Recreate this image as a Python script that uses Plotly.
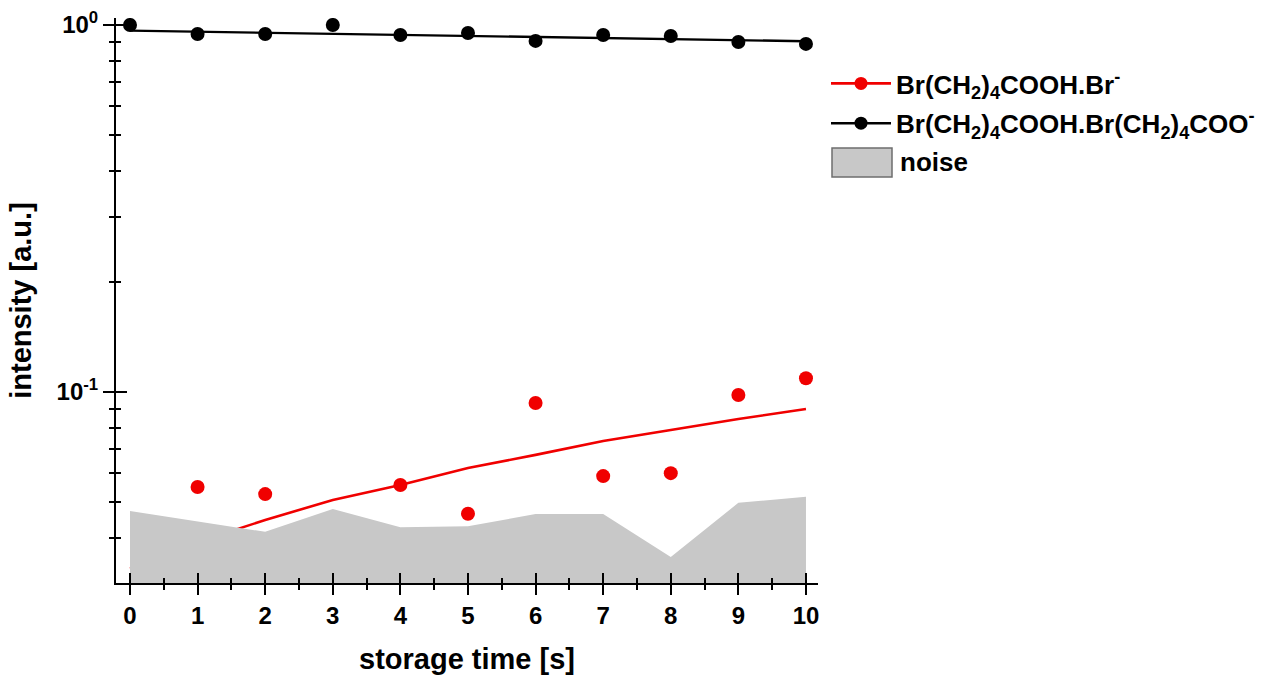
import plotly.graph_objects as go

# storage time axis (s)
time_s = [0, 1, 2, 3, 4, 5, 6, 7, 8, 9, 10]

# measured intensities (a.u.)
br_adduct = [None, 0.0551, 0.0527, None, 0.0558, 0.0466, 0.0933, 0.0590, 0.0601, 0.0981, 0.109]
dimer = [1.0, 0.945, 0.945, 1.0, 0.939, 0.951, 0.905, 0.939, 0.933, 0.899, 0.888]

# fitted curves evaluated at the storage times
br_adduct_fit = [0.033, 0.039, 0.0448, 0.0508, 0.0558, 0.0621, 0.0674, 0.0735, 0.0788, 0.0844, 0.0899]
dimer_fit = [0.965, 0.959, 0.952, 0.946, 0.940, 0.934, 0.927, 0.921, 0.915, 0.909, 0.903]

# noise level
noise = [0.0474, 0.0445, 0.0416, 0.0480, 0.0428, 0.0431, 0.0465, 0.0465, 0.0355, 0.0499, 0.0518]

# tick definitions
x_tickvals = [0, 1, 2, 3, 4, 5, 6, 7, 8, 9, 10]
x_minor_tickvals = [0.5, 1.5, 2.5, 3.5, 4.5, 5.5, 6.5, 7.5, 8.5, 9.5]
y_tickvals = [0.1, 1]
y_ticktext = ["10<sup>-1</sup>", "10<sup>0</sup>"]
y_minor_tickvals = [0.04, 0.05, 0.06, 0.07, 0.08, 0.09, 0.2, 0.3, 0.4, 0.5, 0.6, 0.7, 0.8, 0.9]

name_br = "Br(CH<sub>2</sub>)<sub>4</sub>COOH.Br<sup>-</sup>"
name_dimer = "Br(CH<sub>2</sub>)<sub>4</sub>COOH.Br(CH<sub>2</sub>)<sub>4</sub>COO<sup>-</sup>"

RED = "#f00000"
BLACK = "#000000"
GRAY = "#c8c8c8"
FONT = "Liberation Sans, Arial, sans-serif"

X_RANGE = [-0.207, 10.178]
Y_RANGE = [-1.5204, 0.019]

# plot-area geometry in pixels, used to place the hand-built noise legend key
W, H = 1267, 675
ML, MR, MT, MB = 116, 449, 18, 92
PW, PH = W - ML - MR, H - MT - MB


def px_x(px):
    return (px - ML) / PW


def px_y(py):
    return (H - MB - py) / PH


fig = go.Figure()

# red series: fit and points (drawn first so the noise band covers them)
fig.add_trace(go.Scatter(x=time_s, y=br_adduct_fit, mode="lines",
                         line=dict(color=RED, width=2.6),
                         legendgroup="br", showlegend=False, hoverinfo="skip"))
fig.add_trace(go.Scatter(x=time_s, y=br_adduct, mode="markers",
                         marker=dict(color=RED, size=14),
                         legendgroup="br", showlegend=False))

# noise band
fig.add_trace(go.Scatter(x=time_s, y=noise, mode="lines", fill="tozeroy",
                         fillcolor=GRAY, line=dict(width=0, color=GRAY),
                         showlegend=False, hoverinfo="skip"))

# black series lives on the overlay axes (which also draw the inner tick halves)
fig.add_trace(go.Scatter(x=time_s, y=dimer_fit, mode="lines",
                         line=dict(color=BLACK, width=2.4),
                         xaxis="x2", yaxis="y2",
                         legendgroup="dimer", showlegend=False, hoverinfo="skip"))
fig.add_trace(go.Scatter(x=time_s, y=dimer, mode="markers",
                         marker=dict(color=BLACK, size=14),
                         xaxis="x2", yaxis="y2",
                         legendgroup="dimer", showlegend=False))

# legend entries
fig.add_trace(go.Scatter(x=[None], y=[None], mode="lines+markers", name=name_br,
                         line=dict(color=RED, width=2.6), marker=dict(color=RED, size=13),
                         legendgroup="br", legendrank=1))
fig.add_trace(go.Scatter(x=[None], y=[None], mode="lines+markers", name=name_dimer,
                         line=dict(color=BLACK, width=2.4), marker=dict(color=BLACK, size=13),
                         legendgroup="dimer", legendrank=2))

tick_font = dict(family=FONT, size=24, color=BLACK, weight="bold")
title_font = dict(family=FONT, size=29, color=BLACK, weight="bold")
legend_font = dict(family=FONT, size=26, color=BLACK, weight="bold")

# noise key: grey box with a darker outline, and its label
fig.add_shape(type="rect", xref="paper", yref="paper",
              x0=px_x(832), x1=px_x(892), y0=px_y(177), y1=px_y(148),
              fillcolor=GRAY, line=dict(color="#6e6e6e", width=1.5))
fig.add_annotation(text="noise", xref="paper", yref="paper",
                   x=px_x(898), y=px_y(162), xanchor="left", yanchor="middle",
                   showarrow=False, font=legend_font)

fig.update_layout(
    width=W, height=H,
    margin=dict(l=ML, r=MR, t=MT, b=MB, autoexpand=False),
    plot_bgcolor="white", paper_bgcolor="white",
    font=dict(family=FONT, color=BLACK, weight="bold"),
    xaxis=dict(
        range=X_RANGE, showgrid=False, zeroline=False, automargin=False,
        showline=True, linecolor=BLACK, linewidth=2,
        tickmode="array", tickvals=x_tickvals,
        ticks="outside", ticklen=10, tickwidth=2, tickcolor=BLACK,
        minor=dict(tickmode="array", tickvals=x_minor_tickvals, ticks="outside",
                   ticklen=5, tickwidth=2, tickcolor=BLACK, showgrid=False),
        tickfont=tick_font,
        title=dict(text="storage time [s]", font=title_font, standoff=24),
    ),
    yaxis=dict(
        type="log", range=Y_RANGE, showgrid=False, zeroline=False, automargin=False,
        showline=True, linecolor=BLACK, linewidth=2,
        tickmode="array", tickvals=y_tickvals, ticktext=y_ticktext,
        ticks="outside", ticklen=11, tickwidth=2, tickcolor=BLACK,
        minor=dict(tickmode="array", tickvals=y_minor_tickvals, ticks="outside",
                   ticklen=5, tickwidth=2, tickcolor=BLACK, showgrid=False),
        tickfont=tick_font,
        title=dict(text="intensity [a.u.]", font=title_font, standoff=16),
    ),
    xaxis2=dict(
        overlaying="x", anchor="y2", side="bottom", range=X_RANGE, automargin=False,
        showgrid=False, zeroline=False, showline=False, showticklabels=False,
        tickmode="array", tickvals=x_tickvals,
        ticks="inside", ticklen=10, tickwidth=2, tickcolor=BLACK,
        minor=dict(tickmode="array", tickvals=x_minor_tickvals, ticks="inside",
                   ticklen=5, tickwidth=2, tickcolor=BLACK, showgrid=False),
    ),
    yaxis2=dict(
        overlaying="y", anchor="x2", side="left", type="log", range=Y_RANGE, automargin=False,
        showgrid=False, zeroline=False, showline=False, showticklabels=False,
        tickmode="array", tickvals=y_tickvals,
        ticks="inside", ticklen=11, tickwidth=2, tickcolor=BLACK,
        minor=dict(tickmode="array", tickvals=y_minor_tickvals, ticks="inside",
                   ticklen=5, tickwidth=2, tickcolor=BLACK, showgrid=False),
    ),
    legend=dict(
        x=px_x(826), y=px_y(60), xanchor="left", yanchor="top",
        font=legend_font,
        bgcolor="rgba(0,0,0,0)", itemwidth=60, tracegroupgap=3,
    ),
    showlegend=True,
)

fig.write_html("out.html")
